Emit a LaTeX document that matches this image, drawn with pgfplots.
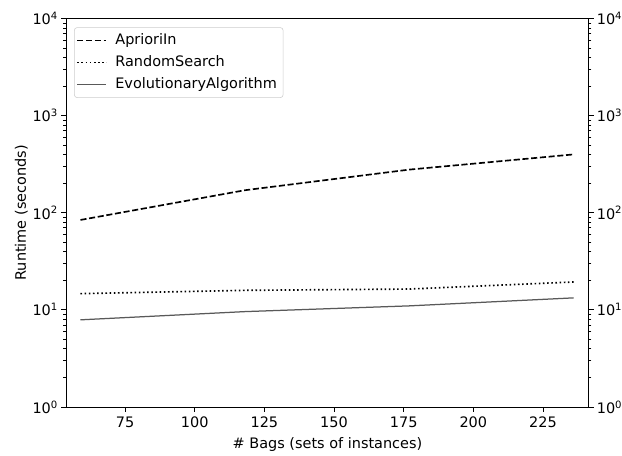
\documentclass[border=0pt]{standalone}
\usepackage{fontspec}
\setmainfont{DejaVu Sans}
\usepackage{pgfplots}
\pgfplotsset{compat=1.18}
\newcommand{\fs}{\fontsize{10.4}{12.5}\selectfont}
\pgfplotsset{
  commonax/.style={
    scale only axis, width=376pt, height=279.4pt,
    xmin=53.9, xmax=241.4, ymin=1, ymax=10000,
    tick align=outside, axis line style={line width=0.6pt},
    major tick length=3.5pt, minor tick length=2pt,
    every tick/.style={black, line width=0.6pt},
    ytick={1,10,100,1000,10000},
    minor ytick={2,3,4,5,6,7,8,9,20,30,40,50,60,70,80,90,200,300,400,500,600,700,800,900,2000,3000,4000,5000,6000,7000,8000,9000},
    yticklabels={10\textsuperscript{0},10\textsuperscript{1},10\textsuperscript{2},10\textsuperscript{3},10\textsuperscript{4}},
    tick label style={font=\fs},
    yticklabel style={inner xsep=2.2pt},
  }
}
\begin{document}
\fs
\begin{tikzpicture}
\begin{semilogyaxis}[commonax, name=main,
  xtick={75,100,125,150,175,200,225},
  xtick pos=bottom, ytick pos=left,
  /pgf/number format/assume math mode=true,
  xlabel={\# Bags (sets of instances)},
  ylabel={Runtime (seconds)},
  ylabel shift=-2.5pt,
  label style={font=\fs},
  legend cell align=left,
  legend style={font=\fs, draw=black!20, rounded corners=2pt, fill=white, inner xsep=1.5pt, inner ysep=1.5pt, row sep=0pt, at={(0.015,0.978)}, anchor=north west,
    nodes={text height=8.2pt, text depth=2.4pt, inner ysep=2.6pt, inner xsep=3pt},
    /tikz/every odd column/.append style={column sep=2.8pt}},
  legend image code/.code={\draw[#1] (0pt,0pt) -- (21pt,0pt);},
]
\addplot[black, line width=1.2pt, dash pattern=on 4.4pt off 1.9pt] coordinates {(59,84.5) (118,171) (177,279) (236,400)};
\addlegendentry{AprioriIn}
\addplot[black, line width=1.2pt, dash pattern=on 1.1pt off 1.9pt] coordinates {(59,14.7) (118,15.9) (177,16.4) (236,19.4)};
\addlegendentry{RandomSearch}
\addplot[black!65, line width=0.9pt] coordinates {(59,7.9) (118,9.6) (177,11.0) (236,13.3)};
\addlegendentry{EvolutionaryAlgorithm}
\end{semilogyaxis}
\begin{semilogyaxis}[commonax,
  hide x axis, axis y line*=right,
  ytick pos=right, yticklabel pos=right,
]
\addplot[draw=none] coordinates {(100,10)};
\end{semilogyaxis}
\coordinate (bl) at ([shift={(-47.7pt,-34.8pt)}]main.south west);
\coordinate (tr) at ([shift={(24pt,13.5pt)}]main.north east);
\pgfresetboundingbox
\useasboundingbox (bl) rectangle (tr);
\end{tikzpicture}
\end{document}
